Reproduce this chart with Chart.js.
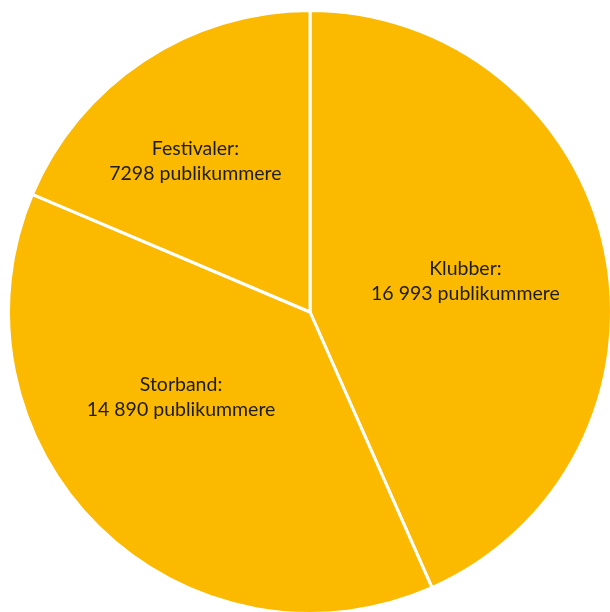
<!DOCTYPE html>
<html>
<head>
<meta charset="utf-8">
<script src="https://cdn.jsdelivr.net/npm/chart.js@4/dist/chart.umd.min.js"></script>
<style>
  html, body { margin: 0; padding: 0; background: #fff; overflow: hidden; }
  #wrap { position: absolute; left: 7px; top: 9px; width: 606px; height: 606px; }
</style>
</head>
<body>
<div id="wrap"><canvas id="pieChart"></canvas></div>
<script>
const categories = ['Klubber', 'Storband', 'Festivaler'];
const audience = [16993, 14890, 7298];
const valueLabels = ['16 993', '14 890', '7298'];

// tekst inne i hvert stykke
const sliceLabels = {
  id: 'sliceLabels',
  afterDatasetsDraw(chart, args, opts) {
    const c = chart.ctx;
    const arcs = chart.getDatasetMeta(0).data;
    c.save();
    c.font = opts.font;
    c.fillStyle = opts.color;
    c.textAlign = 'center';
    c.textBaseline = 'middle';
    arcs.forEach((arc, i) => {
      const p = arc.getProps(['x', 'y', 'startAngle', 'endAngle', 'outerRadius']);
      const mid = (p.startAngle + p.endAngle) / 2;
      const r = p.outerRadius * opts.radius;
      const nudge = opts.nudge[i] || [0, 0];
      const x = p.x + Math.cos(mid) * r + nudge[0];
      const y = p.y + Math.sin(mid) * r + nudge[1];
      c.fillText(categories[i] + ':', x, y - opts.lineHeight / 2);
      c.fillText(valueLabels[i] + ' publikummere', x, y + opts.lineHeight / 2);
    });
    c.restore();
  }
};

new Chart(document.getElementById('pieChart'), {
  type: 'pie',
  data: {
    labels: categories,
    datasets: [{
      data: audience,
      backgroundColor: '#FBBA00',
      borderColor: '#ffffff',
      borderWidth: 3
    }]
  },
  options: {
    responsive: true,
    maintainAspectRatio: false,
    animation: false,
    layout: { padding: 0 },
    plugins: {
      legend: { display: false },
      tooltip: { enabled: false },
      sliceLabels: {
        font: '19.5px Lato',
        color: '#1c1c1c',
        lineHeight: 25,
        radius: 0.52,
        nudge: [[2, 2], [-19, -27], [-28, -20]]
      }
    }
  },
  plugins: [sliceLabels]
});
</script>
</body>
</html>
